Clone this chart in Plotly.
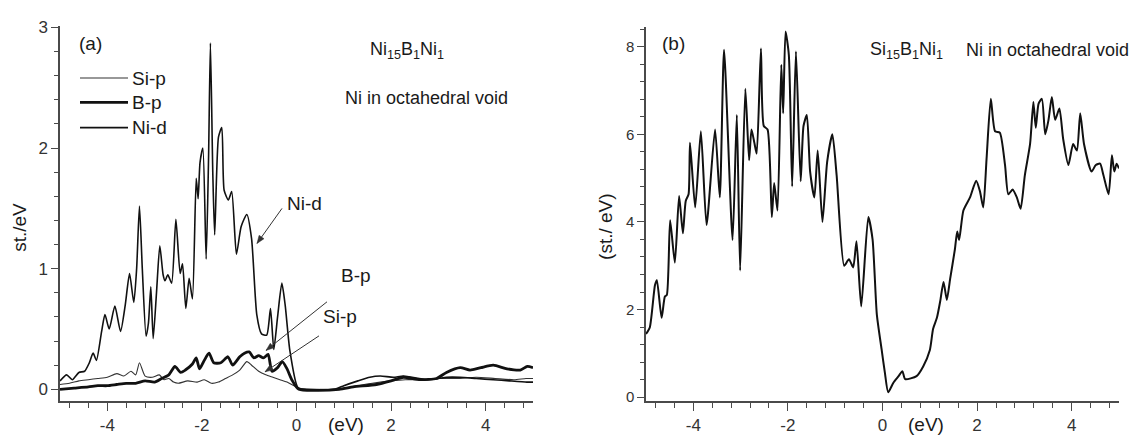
import math
import plotly.graph_objects as go

W, H = 1139, 442

# ---------------- Panel (a) data ----------------
nid_x = [-5.00, -4.86, -4.74, -4.60, -4.48, -4.38, -4.30, -4.23, -4.12, -4.05, -3.96, -3.84, -3.72, -3.62,
         -3.53, -3.44, -3.38, -3.32, -3.26, -3.18, -3.13, -3.08, -3.03, -2.96, -2.89, -2.82, -2.78, -2.72,
         -2.64, -2.55, -2.46, -2.41, -2.34, -2.27, -2.20, -2.12, -2.08, -2.04, -1.98, -1.91, -1.86, -1.82,
         -1.77, -1.73, -1.65, -1.58, -1.53, -1.44, -1.37, -1.27, -1.17, -1.05, -0.95, -0.84, -0.74, -0.63,
         -0.55, -0.48, -0.40, -0.31, -0.24, -0.14, 0.02, 0.10, 0.80, 1.00, 1.30, 1.55, 1.77, 2.05, 2.26,
         2.75, 3.00, 3.17, 3.46, 3.80, 4.16, 4.50, 4.87, 5.00]
nid_y = [0.07, 0.12, 0.08, 0.14, 0.15, 0.22, 0.30, 0.24, 0.48, 0.62, 0.50, 0.69, 0.48, 0.70,
         0.96, 0.72, 1.00, 1.52, 1.00, 0.44, 0.55, 0.85, 0.42, 0.80, 1.19, 0.95, 0.90, 0.95,
         0.88, 1.41, 0.96, 1.04, 0.67, 0.92, 0.75, 1.75, 1.58, 1.88, 2.00, 1.08, 1.90, 2.87,
         1.80, 1.28, 2.09, 2.17, 1.65, 1.57, 1.64, 1.12, 1.35, 1.45, 1.25, 0.62, 0.46, 0.45,
         0.67, 0.33, 0.60, 0.88, 0.70, 0.32, 0.02, 0.00, 0.00, 0.03, 0.07, 0.10, 0.11, 0.10, 0.11,
         0.08, 0.09, 0.10, 0.10, 0.09, 0.08, 0.07, 0.06, 0.06]

sip_x = [-5.00, -4.80, -4.60, -4.40, -4.20, -4.00, -3.80, -3.65, -3.50, -3.40, -3.32, -3.20, -3.05, -2.90,
         -2.80, -2.70, -2.60, -2.50, -2.30, -2.10, -1.95, -1.80, -1.65, -1.50, -1.35, -1.20, -1.05, -0.95,
         -0.80, -0.65, -0.50, -0.35, -0.20, 0.05, 0.80, 1.00, 1.30, 1.60, 2.00, 2.30, 2.70, 3.00, 3.40,
         3.80, 4.20, 4.60, 4.85, 5.00]
sip_y = [0.04, 0.05, 0.07, 0.08, 0.09, 0.10, 0.13, 0.11, 0.15, 0.12, 0.22, 0.11, 0.10, 0.12,
         0.08, 0.09, 0.06, 0.05, 0.07, 0.06, 0.08, 0.05, 0.06, 0.09, 0.12, 0.16, 0.23, 0.20,
         0.15, 0.12, 0.10, 0.08, 0.06, 0.01, 0.00, 0.01, 0.03, 0.05, 0.07, 0.08, 0.08, 0.09, 0.09,
         0.10, 0.09, 0.08, 0.09, 0.09]

bp_x = [-5.00, -4.70, -4.40, -4.20, -4.00, -3.80, -3.60, -3.40, -3.20, -3.00, -2.85, -2.70, -2.57, -2.45,
        -2.35, -2.20, -2.12, -2.05, -1.95, -1.85, -1.75, -1.60, -1.45, -1.35, -1.20, -1.10, -1.00, -0.90,
        -0.80, -0.70, -0.60, -0.52, -0.40, -0.30, -0.20, -0.10, 0.05, 0.90, 1.20, 1.69, 2.00, 2.26, 2.61,
        2.96, 3.17, 3.46, 3.67, 3.90, 4.16, 4.45, 4.73, 4.88, 5.00]
bp_y = [0.00, 0.01, 0.02, 0.03, 0.03, 0.04, 0.05, 0.05, 0.07, 0.06, 0.09, 0.12, 0.19, 0.14,
        0.16, 0.21, 0.26, 0.17, 0.24, 0.30, 0.22, 0.22, 0.27, 0.20, 0.27, 0.30, 0.31, 0.26,
        0.28, 0.26, 0.29, 0.15, 0.18, 0.23, 0.17, 0.08, 0.00, 0.00, 0.02, 0.04, 0.07, 0.10, 0.08,
        0.09, 0.14, 0.18, 0.16, 0.18, 0.20, 0.17, 0.16, 0.19, 0.18]

# ---------------- Panel (b) data ----------------
tot_x = [-5.00, -4.92, -4.81, -4.77, -4.67, -4.60, -4.56, -4.49, -4.39, -4.30, -4.22, -4.16, -4.10, -4.07,
         -3.96, -3.84, -3.72, -3.54, -3.44, -3.35, -3.17, -3.08, -3.01, -2.90, -2.82, -2.77, -2.71, -2.66,
         -2.57, -2.51, -2.43, -2.34, -2.29, -2.22, -2.14, -2.10, -2.05, -1.98, -1.91, -1.83, -1.73, -1.67,
         -1.60, -1.53, -1.44, -1.37, -1.27, -1.17, -1.06, -0.97, -0.81, -0.71, -0.62, -0.55, -0.45, -0.30,
         -0.21, -0.12, -0.02, 0.05, 0.12, 0.23, 0.34, 0.42, 0.48, 0.72, 0.86, 1.00, 1.07, 1.15, 1.22, 1.29,
         1.36, 1.43, 1.53, 1.58, 1.62, 1.71, 1.85, 1.98, 2.06, 2.13, 2.20, 2.29, 2.38, 2.48, 2.59, 2.66,
         2.75, 2.84, 2.92, 3.01, 3.12, 3.19, 3.24, 3.30, 3.37, 3.44, 3.51, 3.58, 3.65, 3.74, 3.82, 3.93,
         4.03, 4.11, 4.18, 4.26, 4.42, 4.51, 4.60, 4.67, 4.78, 4.85, 4.90, 4.95, 5.00]
tot_y = [1.44, 1.59, 2.56, 2.67, 1.81, 2.30, 2.33, 4.04, 3.07, 4.59, 3.74, 4.48, 4.63, 5.81,
         4.33, 6.07, 3.93, 6.11, 4.56, 7.93, 3.59, 6.44, 2.89, 7.04, 5.41, 6.11, 5.81, 5.56,
         7.96, 6.19, 6.11, 4.11, 4.89, 4.26, 7.59, 6.48, 8.35, 7.81, 4.81, 7.89, 4.93, 6.19,
         6.44, 5.15, 4.56, 5.63, 4.00, 5.37, 6.00, 5.07, 3.00, 3.15, 2.96, 3.56, 2.07, 4.11,
         3.60, 1.89, 1.10, 0.56, 0.11, 0.33, 0.48, 0.59, 0.41, 0.48, 0.70, 1.07, 1.56, 1.81, 2.19, 2.63,
         2.22, 2.70, 3.37, 3.78, 3.59, 4.26, 4.56, 4.94, 4.70, 4.33, 5.44, 6.81, 6.07, 6.04, 5.30, 4.63,
         4.74, 4.56, 4.30, 5.07, 5.78, 6.74, 6.15, 6.70, 6.81, 6.00, 6.33, 6.85, 6.33, 6.59, 5.89, 5.30,
         5.78, 5.63, 6.48, 5.78, 5.15, 5.30, 5.33, 5.07, 4.63, 5.52, 5.15, 5.33, 5.22]

x_ticks = [-4, -2, 0, 2, 4]
x_tick_labels = ["-4", "-2", "0", "2", "4"]

INK = "#111111"
AX = "#4a4a4a"
FONT = "Liberation Sans, Arial, sans-serif"

fig = go.Figure()
fig.add_trace(go.Scatter(x=sip_x, y=sip_y, mode="lines", name="Si-p",
                         line=dict(color="#333333", width=1.1, shape="spline", smoothing=0.6),
                         xaxis="x", yaxis="y", showlegend=False))
fig.add_trace(go.Scatter(x=nid_x, y=nid_y, mode="lines", name="Ni-d",
                         line=dict(color=INK, width=1.6, shape="spline", smoothing=0.6),
                         xaxis="x", yaxis="y", showlegend=False))
fig.add_trace(go.Scatter(x=bp_x, y=bp_y, mode="lines", name="B-p",
                         line=dict(color=INK, width=2.8, shape="spline", smoothing=0.6),
                         xaxis="x", yaxis="y", showlegend=False))
fig.add_trace(go.Scatter(x=tot_x, y=tot_y, mode="lines", name="total",
                         line=dict(color=INK, width=2, shape="spline", smoothing=0.6),
                         xaxis="x2", yaxis="y2", showlegend=False))


def px(x):
    return x / W


def py(y):
    return 1 - y / H


common_x = dict(range=[-5, 5], tickmode="array", tickvals=x_ticks, ticktext=x_tick_labels,
                ticks="outside", ticklen=8, tickwidth=1.3, tickcolor=AX,
                showline=True, linecolor=AX, linewidth=1.5, mirror=False,
                showgrid=False, zeroline=False,
                tickfont=dict(family=FONT, size=17, color="#333333"),
                minor=dict(dtick=0.4, tick0=0, ticks="outside", ticklen=5, tickwidth=1.1, tickcolor=AX))

fig.update_layout(
    width=W, height=H,
    margin=dict(l=0, r=0, t=0, b=0),
    paper_bgcolor="white", plot_bgcolor="white",
    xaxis=dict(domain=[px(60), px(533)], anchor="y", **common_x),
    xaxis2=dict(domain=[px(646), px(1119)], anchor="y2", **common_x),
    yaxis=dict(domain=[py(404), py(19)], anchor="x", range=[-0.097, 3.008],
               tickmode="array", tickvals=[0, 1, 2, 3], ticktext=["0", "1", "2", "3"],
               ticks="outside", ticklen=7, tickwidth=1.3, tickcolor=AX,
               showline=True, linecolor=AX, linewidth=1.5, showgrid=False, zeroline=False,
               tickfont=dict(family=FONT, size=17, color="#333333"),
               minor=dict(dtick=0.2, tick0=0, ticks="outside", ticklen=4, tickwidth=1.1, tickcolor=AX)),
    yaxis2=dict(domain=[py(404), py(20)], anchor="x2", range=[-0.089, 8.44],
                tickmode="array", tickvals=[0, 2, 4, 6, 8], ticktext=["0", "2", "4", "6", "8"],
                ticks="outside", ticklen=7, tickwidth=1.3, tickcolor=AX,
                showline=True, linecolor=AX, linewidth=1.5, showgrid=False, zeroline=False,
                tickfont=dict(family=FONT, size=15, color="#333333"),
                minor=dict(dtick=0.4, tick0=0, ticks="outside", ticklen=4, tickwidth=1.1, tickcolor=AX)),
    showlegend=False,
)


def text(t, x, y, size=19, angle=0, xanchor="center"):
    fig.add_annotation(text=t, x=px(x), y=py(y), xref="paper", yref="paper",
                       showarrow=False, xanchor=xanchor, yanchor="middle", textangle=angle,
                       font=dict(family=FONT, size=size, color="#1a1a1a"))


def arrow(x0, y0, x1, y1):
    # tail (x0,y0) -> head (x1,y1), pixel positions, drawn as shapes
    fig.add_shape(type="line", xref="paper", yref="paper",
                  x0=px(x0), y0=py(y0), x1=px(x1), y1=py(y1),
                  line=dict(color="#333333", width=1))
    ang = math.atan2(y1 - y0, x1 - x0)
    L, hw = 8, 3
    bx, by = x1 - L * math.cos(ang), y1 - L * math.sin(ang)
    lx, ly = bx + hw * math.sin(ang), by - hw * math.cos(ang)
    rx, ry = bx - hw * math.sin(ang), by + hw * math.cos(ang)
    path = (f"M {px(x1)} {py(y1)} L {px(lx)} {py(ly)} L {px(rx)} {py(ry)} Z")
    fig.add_shape(type="path", xref="paper", yref="paper", path=path,
                  fillcolor="#333333", line=dict(color="#333333", width=0.5))


# panel (a) texts
text("(a)", 90, 36)
text("Ni<sub>15</sub>B<sub>1</sub>Ni<sub>1</sub>", 407, 44, size=18)
text("Ni in octahedral void", 426, 93, size=18)
text("st./eV", 20, 226, angle=-90)
text("(eV)", 346, 428)

# legend (a)
legend_items = [("Si-p", 72, 1.1, "#333333"), ("B-p", 97, 2.8, INK), ("Ni-d", 123, 1.6, INK)]
for name, yy, wd, col in legend_items:
    fig.add_shape(type="line", xref="paper", yref="paper", x0=px(80), x1=px(128),
                  y0=py(yy), y1=py(yy), line=dict(color=col, width=wd))
    text(name, 130, yy, xanchor="left")

# labels with arrows
text("Ni-d", 304, 201)
arrow(282, 206, 257, 242)
text("B-p", 356, 275)
text("Si-p", 340, 317)
arrow(327, 302, 266, 352)
arrow(319, 337, 265, 374)

# panel (b) texts
text("(b)", 673, 36)
text("Si<sub>15</sub>B<sub>1</sub>Ni<sub>1</sub>", 906, 44, size=18)
text("Ni in octahedral void", 1047, 43, size=18)
text("(st./ eV)", 606, 225, angle=-90)
text("(eV)", 926, 428)

fig.write_html("out.html")
